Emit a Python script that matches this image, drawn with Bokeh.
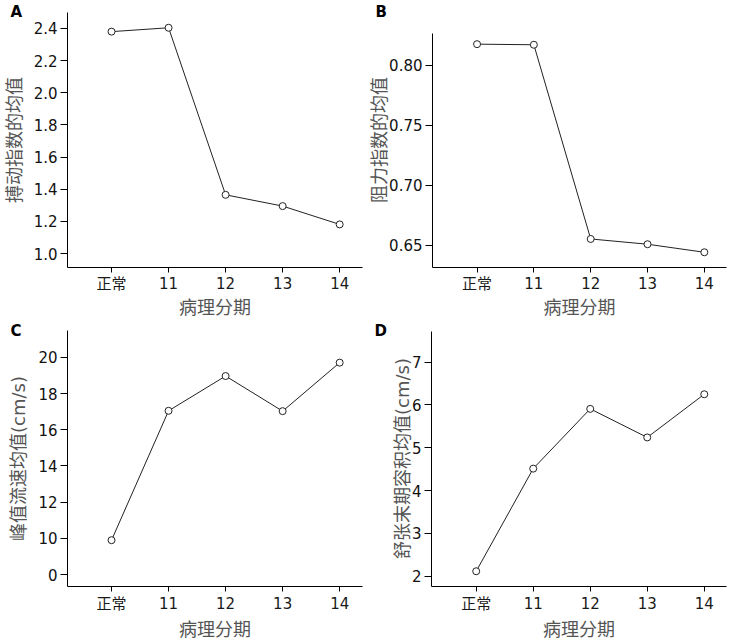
from bokeh.plotting import figure
from bokeh.models import FixedTicker, Range1d, ColumnDataSource, Title
from bokeh.layouts import column, row
from bokeh.embed import file_html
from bokeh.resources import INLINE

categories = ["正常", "11", "12", "13", "14"]
x_title = "病理分期"

pulsatility = [2.38, 2.404, 1.365, 1.295, 1.181]
resistance = [0.8177, 0.8172, 0.6553, 0.6509, 0.6442]
peak_velocity = [9.9, 17.05, 18.97, 17.03, 19.71]
diastolic = [2.116, 4.512, 5.907, 5.240, 6.248]

ticks_a = [1.0, 1.2, 1.4, 1.6, 1.8, 2.0, 2.2, 2.4]
ticks_b = [0.65, 0.70, 0.75, 0.80]
ticks_c = [8, 10, 12, 14, 16, 18, 20]
labels_c = {8: "0"}
ticks_d = [2, 3, 4, 5, 6, 7]

NUM_FONT = "DejaVu Sans, Noto Sans CJK SC"
TITLE_FONT = "DejaVu Sans, Noto Sans CJK SC"


def make_panel(letter, values, ytitle, yrange, ybounds, yticks, fmt, xrange,
               width, height, bl, br, bt, bb, ystand, xstands, lstand,
               overrides=None):
    p = figure(width=width, height=height, output_backend="svg", title=None,
               toolbar_location=None, x_range=Range1d(*xrange),
               y_range=Range1d(*yrange), min_border_left=bl,
               min_border_right=br, min_border_top=bt, min_border_bottom=bb)
    p.outline_line_color = None
    p.grid.visible = False
    p.background_fill_color = "white"
    p.border_fill_color = "white"
    src = ColumnDataSource(dict(x=list(range(len(categories))), y=values))
    p.line("x", "y", source=src, line_color="#222222", line_width=1)
    p.scatter("x", "y", source=src, marker="circle", size=7,
              fill_color="white", line_color="#222222", line_width=1)

    xa = p.xaxis[0]
    xa.ticker = FixedTicker(ticks=list(range(len(categories))))
    xa.major_label_overrides = {i: c for i, c in enumerate(categories)}
    xa.axis_label = x_title
    xa.major_tick_out = 5
    xa.major_tick_in = 0
    xa.minor_tick_line_color = None
    xa.axis_line_color = "black"
    xa.major_tick_line_color = "black"
    xa.major_label_text_font = NUM_FONT
    xa.major_label_text_font_size = "15px"
    xa.major_label_text_color = "#1a1a1a"
    xa.major_label_standoff = xstands[0]
    xa.axis_label_text_font = TITLE_FONT
    xa.axis_label_text_font_size = "18px"
    xa.axis_label_text_font_style = "normal"
    xa.axis_label_text_color = "#555555"
    xa.axis_label_standoff = xstands[1]

    ya = p.yaxis[0]
    ya.ticker = FixedTicker(ticks=yticks)
    ya.bounds = ybounds
    if overrides:
        ya.major_label_overrides = overrides
    else:
        ya.major_label_overrides = {t: fmt.format(t) for t in yticks}
    ya.axis_label = ytitle
    ya.major_tick_out = 7
    ya.major_tick_in = 0
    ya.minor_tick_line_color = None
    ya.axis_line_color = "black"
    ya.major_tick_line_color = "black"
    ya.major_label_text_font = NUM_FONT
    ya.major_label_text_font_size = "15px"
    ya.major_label_text_color = "#111111"
    ya.major_label_standoff = 3
    ya.axis_label_text_font = TITLE_FONT
    ya.axis_label_text_font_size = "18px"
    ya.axis_label_text_font_style = "normal"
    ya.axis_label_text_color = "#555555"
    ya.axis_label_standoff = ystand

    p.add_layout(Title(text=letter, align="left", offset=-57, standoff=lstand,
                       vertical_align="bottom", text_font="DejaVu Sans",
                       text_font_style="bold", text_font_size="15px",
                       text_color="black"), "above")
    return p


pa = make_panel("A", pulsatility, "搏动指数的均值", (0.913, 2.499), (0.913, 2.499),
                ticks_a, "{:.1f}", (-0.772, 4.40), 366, 320, 67, 4, 12, 52, 6,
                (2, 1), -16)
pb = make_panel("B", resistance, "阻力指数的均值", (0.6315, 0.8441), (0.6315, 0.8266),
                ticks_b, "{:.2f}", (-0.784, 4.39), 367, 320, 65, 7, 12, 52, -4,
                (2, 1), -16)
pc = make_panel("C", peak_velocity, "峰值流速均值(cm/s)", (7.342, 21.486),
                (7.342, 21.486), ticks_c, "{:.0f}", (-0.772, 4.40),
                366, 322, 67, 4, 10, 55, 6, (3, 3), -19, overrides=labels_c)
pd_ = make_panel("D", diastolic, "舒张末期容积均值(cm/s)", (1.760, 7.7365),
                 (1.760, 7.713), ticks_d, "{:.0f}", (-0.784, 4.39),
                 367, 322, 65, 7, 10, 55, -4, (3, 3), -19)

layout = column(row(pa, pb), row(pc, pd_))
open("out.html", "w").write(file_html(layout, INLINE))
